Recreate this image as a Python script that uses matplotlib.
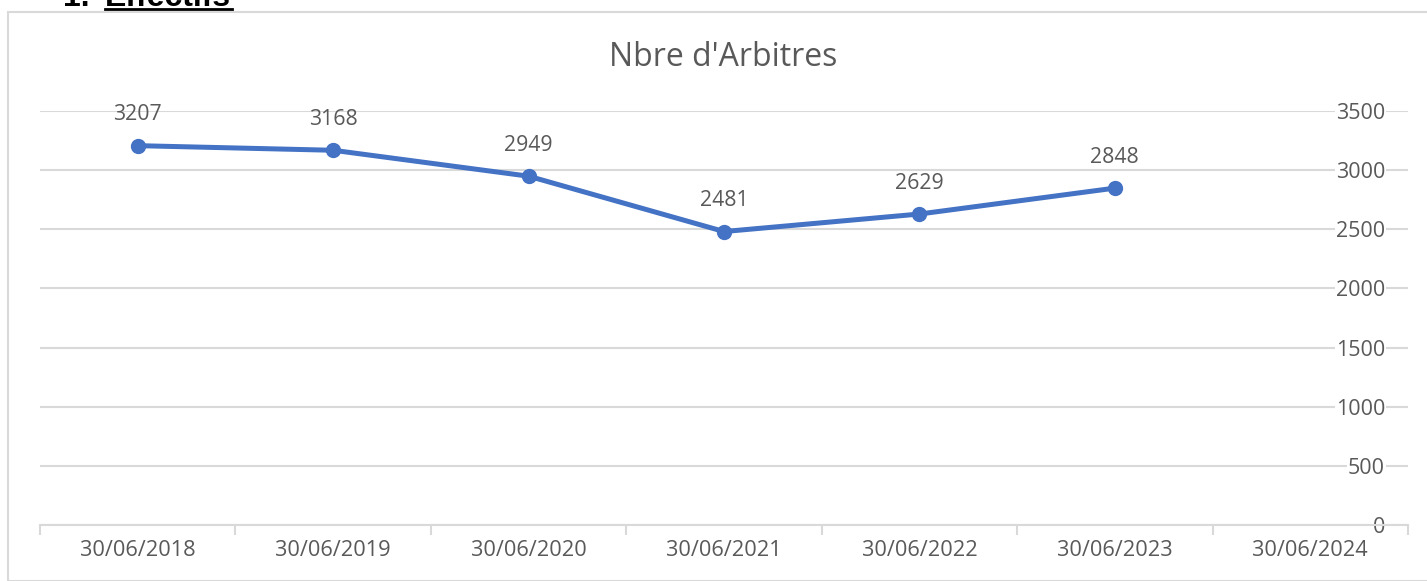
import matplotlib
matplotlib.use("Agg")
import matplotlib.pyplot as plt
from matplotlib.patches import Rectangle
from matplotlib.lines import Line2D
import matplotlib.transforms as mtransforms

categories = ["30/06/2018", "30/06/2019", "30/06/2020", "30/06/2021",
              "30/06/2022", "30/06/2023", "30/06/2024"]
values = [3207, 3168, 2949, 2481, 2629, 2848]
y_ticks = [0, 500, 1000, 1500, 2000, 2500, 3000, 3500]
title = "Nbre d'Arbitres"
heading_num = "1."
heading = "Effectifs"

W, H = 1427, 581
plt.rcParams['font.family'] = ['Open Sans', 'DejaVu Sans']
fig = plt.figure(figsize=(W / 100, H / 100), dpi=100)

TXT = "#595959"
GRID = "#d9d9d9"
LINE = "#4472C4"

# outer chart frame
fig.patches.append(Rectangle((8 / W, 0), 1.0, 1 - 12 / H, transform=fig.transFigure,
                             fill=False, edgecolor=GRID, linewidth=1.5))

# cropped heading (cut off at the top edge, as in the source)
fig.text(63 / W, 1 - 6 / H, heading_num, family="Liberation Sans", weight="bold",
         fontsize=23, va="baseline", ha="left", color="black")
fig.text(105 / W, 1 - 6 / H, heading, family="Liberation Sans", weight="bold",
         fontsize=23, va="baseline", ha="left", color="black")
fig.lines.append(Line2D([105 / W, 232 / W], [1 - 9 / H, 1 - 9 / H], transform=fig.transFigure,
                        color="black", linewidth=2))

left, right = 40 / W, 1408 / W
bottom, top = 1 - 525 / H, 1 - 111 / H
ax = fig.add_axes([left, bottom, right - left, top - bottom])
ax.set_facecolor("none")

x = list(range(len(values)))
ax.plot(x, values, color=LINE, linewidth=3.6, marker="o", markersize=10,
        solid_capstyle="round", zorder=3)
for xi, v in zip(x, values):
    ax.annotate(str(v), (xi, v), xytext=(0, 31), textcoords="offset pixels",
                ha="center", va="center", fontsize=15.3, color=TXT)

ax.set_xlim(-0.5, len(categories) - 0.5)
ax.set_ylim(0, 3500)

for s in ["top", "left", "right"]:
    ax.spines[s].set_visible(False)
ax.spines["bottom"].set_color(GRID)
ax.spines["bottom"].set_linewidth(1.5)

ax.set_yticks(y_ticks)
ax.yaxis.grid(True, color=GRID, linewidth=1.5)
ax.set_axisbelow(True)
ax.tick_params(axis="y", length=0, labelleft=False)

# category labels at centers, tick marks at boundaries
ax.set_xticks(range(len(categories)))
ax.set_xticklabels(categories, fontsize=15.7, color=TXT)
ax.tick_params(axis="x", which="major", length=0, pad=11)
ax.set_xticks([i - 0.5 for i in range(len(categories) + 1)], minor=True)
ax.tick_params(axis="x", which="minor", length=7, width=1.5, color=GRID)

# value labels on the right, overlapping gridlines
trans = mtransforms.blended_transform_factory(ax.transAxes, ax.transData)
for t in y_ticks:
    ax.text((1385 - 40) / (1408 - 40), t, str(t), transform=trans, ha="right", va="center_baseline",
            fontsize=15.5, color=TXT,
            bbox=dict(facecolor="white", edgecolor="none", pad=0.5), zorder=2)

fig.text(723 / W, 1 - 57 / H, title, ha="center", va="center", fontsize=23, color=TXT)

fig.savefig("out.png", dpi=100)
